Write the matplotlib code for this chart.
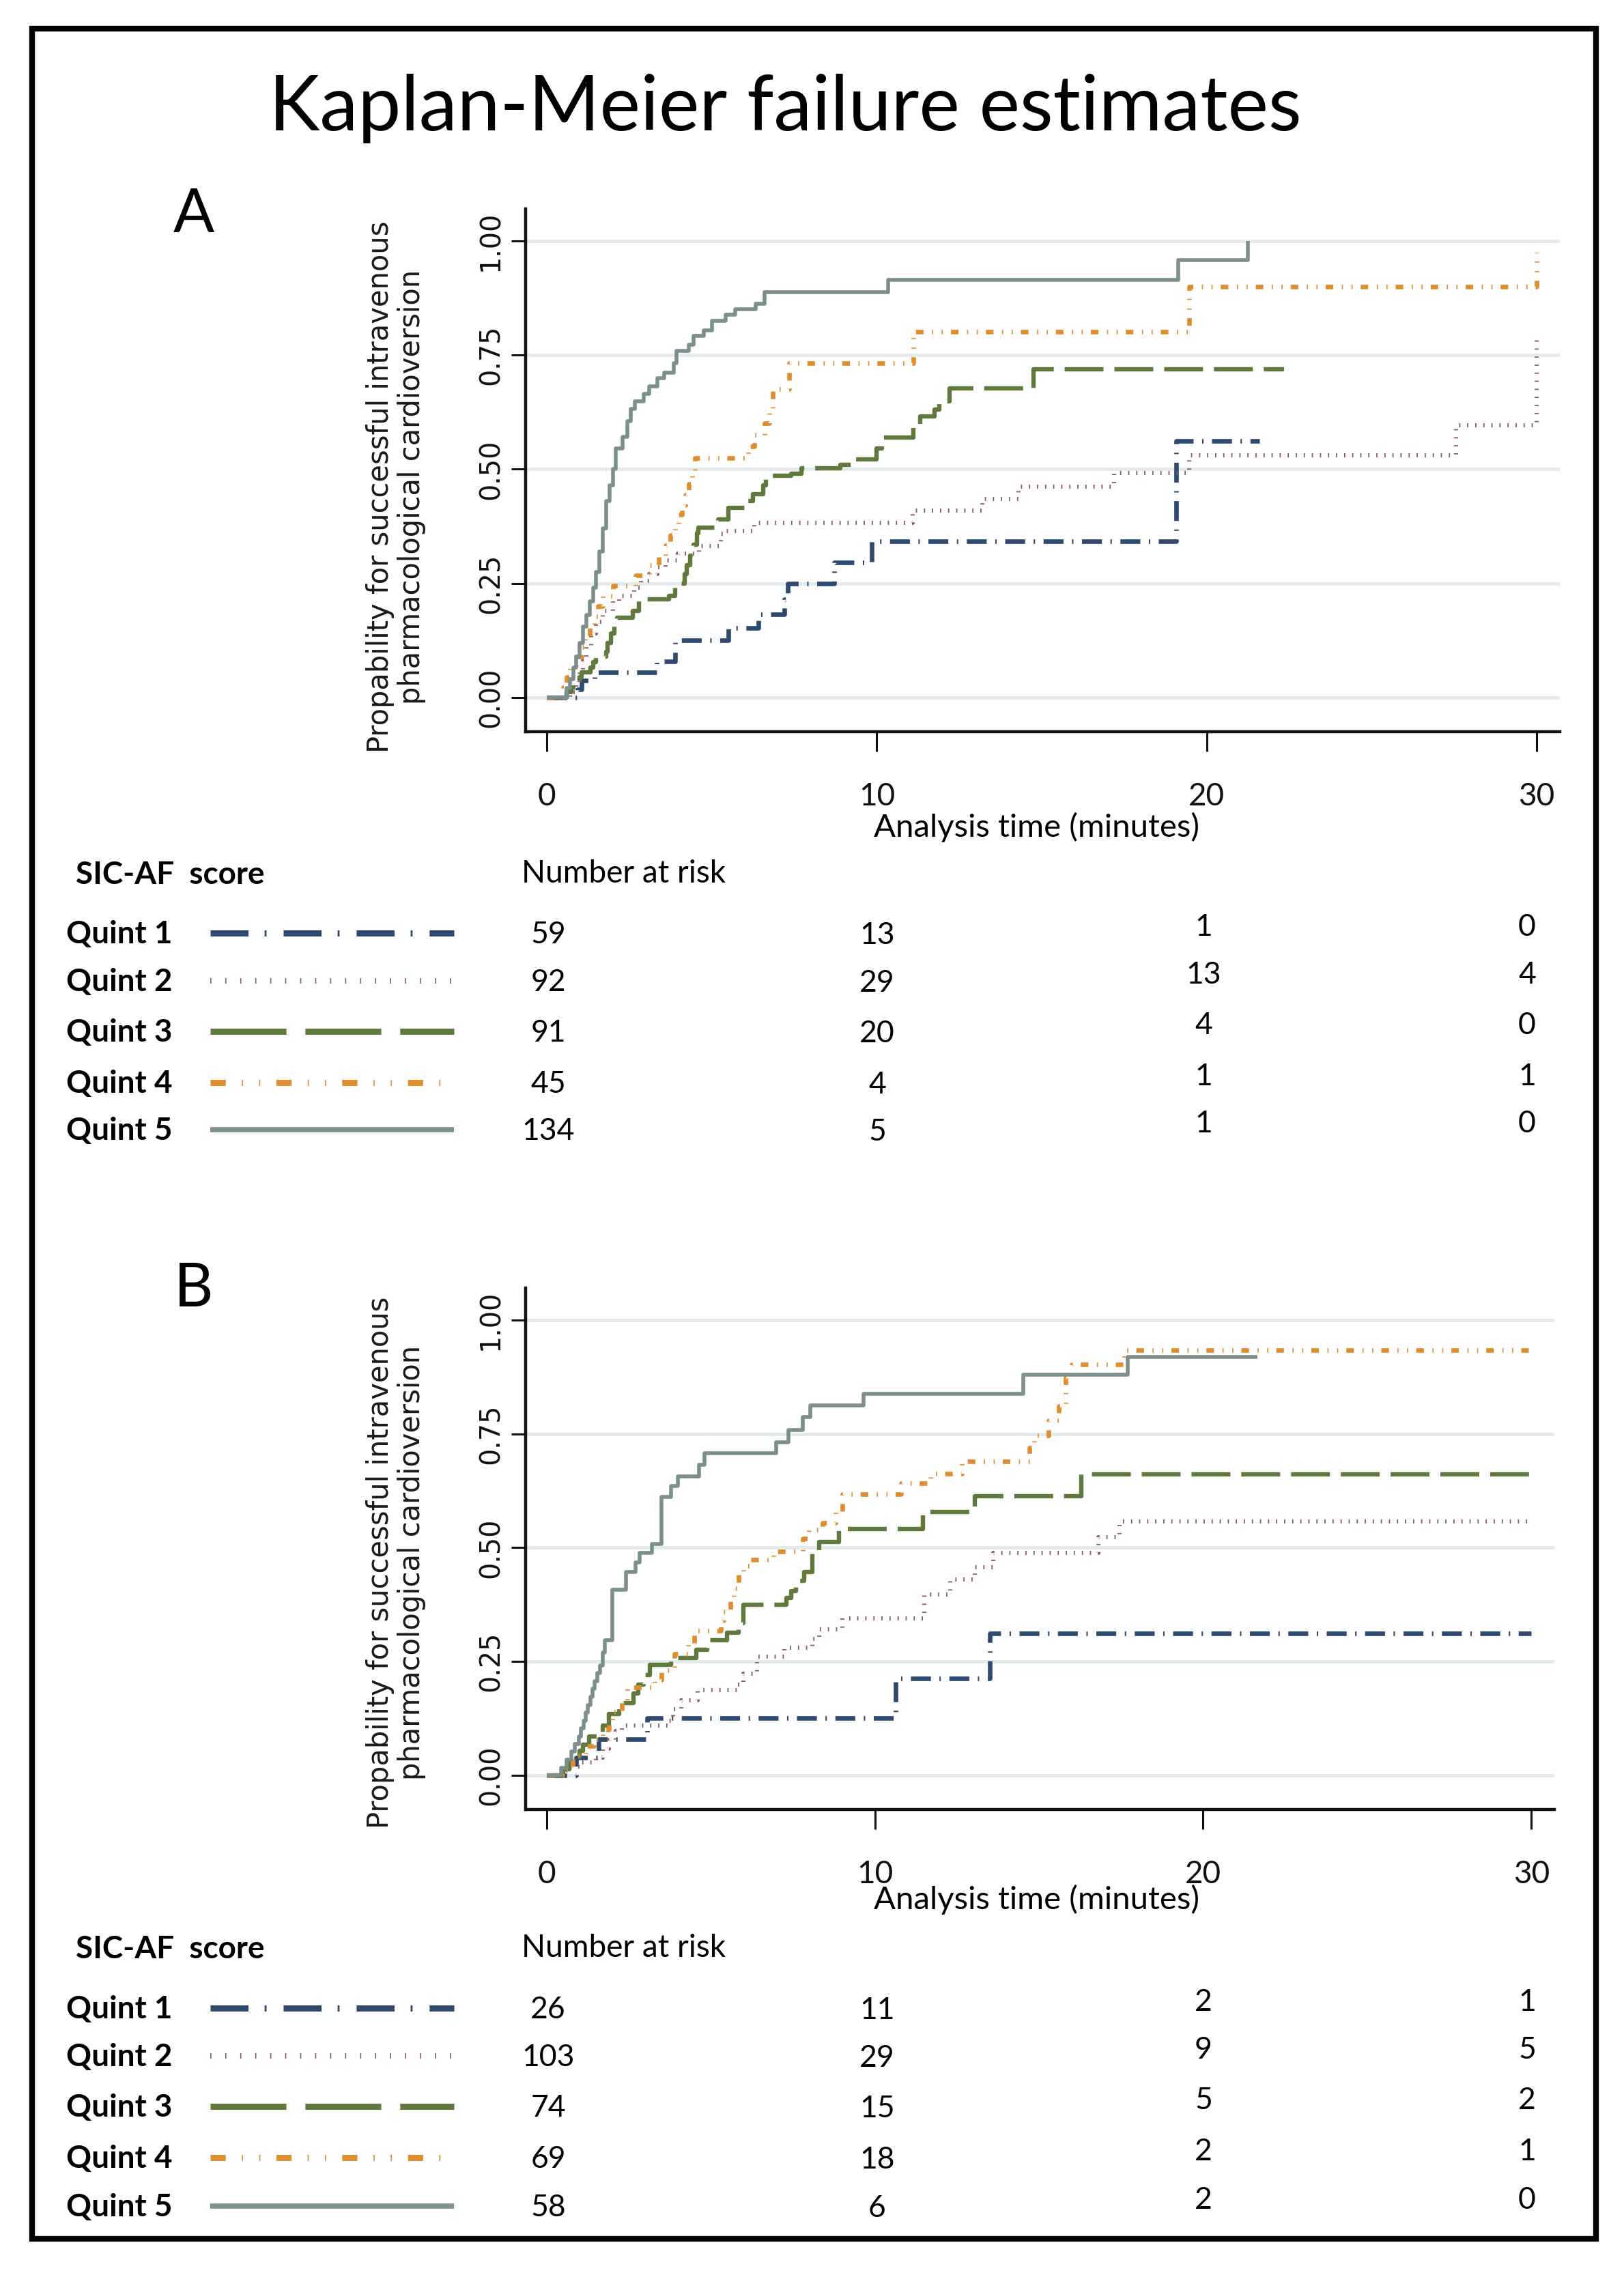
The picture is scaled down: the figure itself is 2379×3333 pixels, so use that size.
import matplotlib
matplotlib.use('Agg')
import matplotlib.pyplot as plt
from matplotlib.patches import Rectangle
from matplotlib.lines import Line2D

plt.rcParams['lines.scale_dashes'] = False

# ---------------- data ----------------
groups = ['Quint 1', 'Quint 2', 'Quint 3', 'Quint 4', 'Quint 5']
x_ticks = [0, 10, 20, 30]
y_ticks = [0.0, 0.25, 0.50, 0.75, 1.00]
y_tick_labels = ['0.00', '0.25', '0.50', '0.75', '1.00']

# Panel A : step times (minutes) and cumulative failure probability
A_q1_t = [0, 0.93, 1.05, 1.45, 3.33, 3.88, 5.5, 6.42, 7.2, 7.3, 8.7, 9.84, 19.08, 21.6]
A_q1_s = [0, 0.018, 0.037, 0.055, 0.079, 0.125, 0.152, 0.182, 0.215, 0.249, 0.295, 0.342, 0.562, 0.562]

A_q2_t = [0, 0.7, 0.9, 1.0, 1.1, 1.2, 1.35, 1.5, 1.7, 2.0, 2.2, 2.65, 2.85, 3.1, 3.35, 3.6,
          3.98, 4.62, 5.27, 5.45, 6.28, 11.08, 13.2, 14.3, 17.2, 19.47, 27.56, 30.0]
A_q2_s = [0, 0.011, 0.033, 0.055, 0.08, 0.11, 0.14, 0.165, 0.19, 0.21, 0.222, 0.24, 0.255, 0.27,
          0.285, 0.30, 0.315, 0.332, 0.359, 0.365, 0.382, 0.409, 0.434, 0.462, 0.492, 0.530, 0.596, 0.786]

A_q3_t = [0, 0.6, 0.75, 0.9, 1.0, 1.05, 1.32, 1.4, 1.5, 1.8, 1.85, 1.95, 2.05, 2.13, 2.6, 2.8, 3.0,
          3.7, 3.88, 4.17, 4.25, 4.35, 4.45, 4.55, 4.6, 5.2, 5.5, 6.1, 6.24, 6.55, 6.65, 7.4, 7.72,
          8.9, 9.28, 10.0, 10.16, 11.1, 11.32, 11.75, 11.9, 12.2, 14.75, 22.35]
A_q3_s = [0, 0.011, 0.022, 0.033, 0.044, 0.055, 0.066, 0.077, 0.089, 0.1, 0.12, 0.14, 0.16, 0.175,
          0.19, 0.21, 0.215, 0.222, 0.249, 0.27, 0.29, 0.31, 0.335, 0.36, 0.372, 0.39, 0.415, 0.43,
          0.445, 0.465, 0.485, 0.49, 0.502, 0.51, 0.522, 0.545, 0.569, 0.59, 0.615, 0.63, 0.649,
          0.677, 0.718, 0.718]

A_q4_t = [0, 0.5, 0.6, 0.7, 0.9, 1.05, 1.15, 1.3, 1.45, 1.55, 1.7, 2.0, 2.7, 3.1, 3.4, 3.6, 3.75,
          3.9, 4.0, 4.1, 4.2, 4.3, 4.4, 4.5, 6.1, 6.3, 6.6, 6.75, 6.85, 7.35, 11.1, 19.47, 30.0]
A_q4_s = [0, 0.022, 0.044, 0.067, 0.089, 0.111, 0.133, 0.156, 0.178, 0.2, 0.222, 0.245, 0.267,
          0.289, 0.311, 0.333, 0.356, 0.378, 0.40, 0.422, 0.444, 0.467, 0.489, 0.525, 0.55, 0.575,
          0.6, 0.632, 0.675, 0.732, 0.801, 0.90, 0.975]

A_q5_t = [0, 0.6, 0.7, 0.8, 0.9, 1.0, 1.1, 1.2, 1.3, 1.4, 1.5, 1.6, 1.7, 1.8, 1.9, 2.0, 2.1, 2.3,
          2.45, 2.55, 2.68, 2.94, 3.1, 3.35, 3.56, 3.85, 3.93, 4.3, 4.44, 4.76, 5.0, 5.43, 5.71,
          6.33, 6.61, 10.35, 19.13, 21.24]
A_q5_s = [0, 0.02, 0.04, 0.065, 0.09, 0.12, 0.155, 0.18, 0.21, 0.24, 0.275, 0.32, 0.37, 0.43,
          0.465, 0.5, 0.545, 0.57, 0.605, 0.632, 0.649, 0.665, 0.682, 0.699, 0.711, 0.732, 0.759,
          0.772, 0.792, 0.804, 0.825, 0.839, 0.851, 0.862, 0.887, 0.915, 0.958, 1.0]

# Panel B
B_q1_t = [0, 0.89, 1.58, 3.07, 10.64, 13.5, 30.0]
B_q1_s = [0, 0.039, 0.079, 0.126, 0.213, 0.311, 0.311]

B_q2_t = [0, 0.55, 0.75, 1.0, 1.5, 1.7, 1.9, 2.1, 2.3, 3.7, 3.85, 4.1, 4.6, 5.8, 6.0, 6.4, 7.25,
          8.1, 8.3, 9.0, 11.5, 12.3, 13.05, 13.6, 16.8, 17.45, 30.0]
B_q2_s = [0, 0.01, 0.019, 0.029, 0.039, 0.058, 0.078, 0.097, 0.109, 0.12, 0.146, 0.165, 0.188,
          0.2, 0.223, 0.26, 0.28, 0.30, 0.32, 0.344, 0.397, 0.43, 0.457, 0.489, 0.523, 0.557, 0.557]

B_q3_t = [0, 0.5, 0.7, 0.9, 1.0, 1.1, 1.3, 1.7, 1.9, 2.2, 2.65, 2.8, 2.95, 3.15, 3.8, 4.55, 4.9,
          5.5, 5.85, 6.0, 7.3, 7.45, 7.6, 7.85, 8.1, 8.3, 8.9, 11.47, 13.05, 16.28, 30.0]
B_q3_s = [0, 0.014, 0.027, 0.041, 0.054, 0.068, 0.086, 0.11, 0.135, 0.159, 0.18, 0.2, 0.22, 0.243,
          0.257, 0.275, 0.297, 0.313, 0.334, 0.375, 0.39, 0.405, 0.427, 0.447, 0.488, 0.513, 0.541,
          0.578, 0.613, 0.661, 0.661]

B_q4_t = [0, 0.55, 0.8, 1.2, 1.45, 1.7, 1.9, 2.0, 2.3, 2.45, 3.3, 3.5, 3.9, 4.3, 4.5, 5.3, 5.4,
          5.6, 5.7, 5.85, 6.0, 6.2, 6.9, 7.8, 8.0, 8.4, 8.8, 9.0, 10.8, 11.7, 12.65, 14.7, 14.85,
          15.3, 15.6, 15.8, 16.0, 17.6, 29.9]
B_q4_s = [0, 0.014, 0.043, 0.065, 0.079, 0.1, 0.12, 0.139, 0.165, 0.193, 0.21, 0.23, 0.267, 0.29,
          0.317, 0.34, 0.36, 0.39, 0.41, 0.44, 0.46, 0.474, 0.491, 0.52, 0.54, 0.555, 0.58, 0.618,
          0.642, 0.663, 0.69, 0.72, 0.746, 0.78, 0.81, 0.874, 0.902, 0.934, 0.934]

B_q5_t = [0, 0.45, 0.6, 0.75, 0.85, 0.98, 1.05, 1.12, 1.2, 1.26, 1.33, 1.4, 1.47, 1.54, 1.63, 1.7,
          1.77, 2.0, 2.42, 2.7, 2.84, 3.21, 3.49, 3.79, 4.0, 4.65, 4.8, 6.99, 7.36, 7.8, 8.04, 9.66,
          14.52, 17.7, 21.65]
B_q5_s = [0, 0.017, 0.034, 0.052, 0.069, 0.086, 0.103, 0.12, 0.138, 0.155, 0.172, 0.19, 0.207,
          0.224, 0.241, 0.27, 0.297, 0.407, 0.447, 0.468, 0.488, 0.508, 0.612, 0.635, 0.656, 0.682,
          0.707, 0.732, 0.759, 0.786, 0.812, 0.838, 0.880, 0.918, 0.918]

# Numbers at risk at 0, 10, 20, 30 minutes
A_risk_q1 = [59, 13, 1, 0]
A_risk_q2 = [92, 29, 13, 4]
A_risk_q3 = [91, 20, 4, 0]
A_risk_q4 = [45, 4, 1, 1]
A_risk_q5 = [134, 5, 1, 0]

B_risk_q1 = [26, 11, 2, 1]
B_risk_q2 = [103, 29, 9, 5]
B_risk_q3 = [74, 15, 5, 2]
B_risk_q4 = [69, 18, 2, 1]
B_risk_q5 = [58, 6, 2, 0]

# ---------------- styles ----------------
colors = ['#2f4a6e', '#8e5a6a', '#5f7a3c', '#df8e2f', '#7b8f8c']
plot_dashes = [(21, 9, 1.5, 9), (1.3, 7.2), (41, 11.5), (8, 9, 1.2, 9, 1.2, 8.5), None]
leg_dashes = [(40, 17, 2, 18), (1.2, 14.6), (80, 20), (16, 17, 1.2, 17, 1.2, 17), None]
plot_lw = [4.8, 4.4, 4.6, 4.8, 4.0]
leg_lw = [6.5, 5.8, 6.5, 6.5, 5.4]

W, H = 2379, 3333
fig = plt.figure(figsize=(W / 100, H / 100), dpi=100)
fig.patch.set_facecolor('white')


def fx(px):
    return px / W


def fy(py):
    return 1 - py / H


LAT = 'Lato'
DJ = 'DejaVu Sans'

# border
fig.add_artist(Rectangle((fx(47), fy(3280)), fx(2338) - fx(47), (3280 - 42) / H,
                         transform=fig.transFigure, fill=False, lw=6, ec='black'))

fig.text(fx(1150), fy(191), 'Kaplan-Meier failure estimates', family=LAT, fontsize=81,
         ha='center', va='baseline', color='black')


def make_panel(left, right, top, bottom, curves, letter, letter_base, ylab_cy, xlab_base):
    ax = fig.add_axes([fx(left), fy(bottom), fx(right) - fx(left), (bottom - top) / H])
    ax.set_xlim(-0.64, 30.7)
    ax.set_ylim(-0.075, 1.07)
    ax.set_facecolor('white')
    for y in y_ticks:
        ax.axhline(y, color='#e3ebed', lw=3.6, zorder=0)
    for i, (t, s) in enumerate(curves):
        kw = dict(where='post', color=colors[i], lw=plot_lw[i], zorder=2 + i,
                  solid_capstyle='butt', dash_capstyle='butt')
        line, = ax.step(t, s, **kw)
        if plot_dashes[i] is not None:
            line.set_dashes(plot_dashes[i])
    for sp in ['top', 'right']:
        ax.spines[sp].set_visible(False)
    for sp in ['left', 'bottom']:
        ax.spines[sp].set_linewidth(3.2)
        ax.spines[sp].set_color('#111111')
    ax.set_xticks(x_ticks)
    ax.set_xticklabels([str(v) for v in x_ticks], family=LAT, fontsize=33)
    ax.set_yticks(y_ticks)
    ax.set_yticklabels(y_tick_labels, family=DJ, fontsize=28.5, rotation=90, va='center', ha='right')
    ax.tick_params(axis='x', length=21, width=2.2, pad=32, colors='#111111')
    ax.tick_params(axis='y', length=15, width=2.2, pad=7, colors='#111111')
    fig.text(fx(580), fy(ylab_cy),
             'Propability for successful intravenous\npharmacological cardioversion',
             family=DJ, fontsize=30, rotation=90, ha='center', va='center',
             multialignment='center', color='#1a1a1a', linespacing=1.15)
    fig.text(fx(1518), fy(xlab_base), 'Analysis time (minutes)', family=LAT, fontsize=34,
             ha='center', va='baseline', color='black')
    fig.text(fx(284), fy(letter_base), letter, family=LAT, fontsize=64, ha='center',
             va='baseline', color='black')
    return ax


def make_table(head_base, row_bases, risks):
    fig.text(fx(111), fy(head_base), 'SIC-AF  score', family=LAT, fontsize=33, weight='bold',
             ha='left', va='baseline')
    fig.text(fx(764), fy(head_base - 2), 'Number at risk', family=LAT, fontsize=33,
             ha='left', va='baseline')
    col_x = [803, 1285, 1763, 2237]
    col_off = [0, 1, -11, -11]
    for i, (g, rb, rk) in enumerate(zip(groups, row_bases, risks)):
        fig.text(fx(97), fy(rb), g, family=LAT, fontsize=33, weight='bold', ha='left',
                 va='baseline')
        ln = Line2D([fx(308), fx(665)], [fy(rb - 15), fy(rb - 15)], transform=fig.transFigure,
                    color=colors[i], lw=leg_lw[i], solid_capstyle='butt', dash_capstyle='butt')
        if leg_dashes[i] is not None:
            ln.set_dashes(leg_dashes[i])
        fig.add_artist(ln)
        for cx, off, v in zip(col_x, col_off, rk):
            fig.text(fx(cx), fy(rb + off), str(v), family=LAT, fontsize=32, ha='center',
                     va='baseline')


curvesA = [(A_q1_t, A_q1_s), (A_q2_t, A_q2_s), (A_q3_t, A_q3_s), (A_q4_t, A_q4_s), (A_q5_t, A_q5_s)]
curvesB = [(B_q1_t, B_q1_s), (B_q2_t, B_q2_s), (B_q3_t, B_q3_s), (B_q4_t, B_q4_s), (B_q5_t, B_q5_s)]

make_panel(770, 2285, 306, 1072, curvesA, 'A', 340, 713, 1226)
make_panel(770, 2277, 1887, 2651, curvesB, 'B', 1914, 2289, 2797)

make_table(1295, [1382, 1452, 1526, 1601, 1670],
           [A_risk_q1, A_risk_q2, A_risk_q3, A_risk_q4, A_risk_q5])
make_table(2869, [2957, 3027, 3101, 3176, 3247],
           [B_risk_q1, B_risk_q2, B_risk_q3, B_risk_q4, B_risk_q5])

fig.savefig('out.png', dpi=100, facecolor='white')
